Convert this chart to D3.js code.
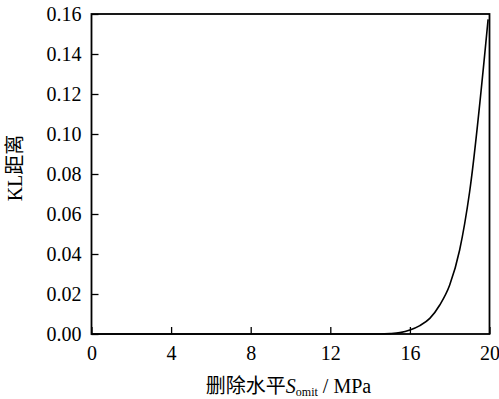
<!DOCTYPE html>
<html><head><meta charset="utf-8">
<script src="https://cdn.jsdelivr.net/npm/d3@7"></script>
<style>body{margin:0;background:#fff}svg{display:block}</style>
</head><body>
<svg id="c" width="499" height="399"></svg>
<script>
const sOmit = [0, 2, 4, 6, 8, 10, 12, 14, 14.5, 15, 15.5, 16, 16.5, 17, 17.5, 18, 18.5, 19, 19.93];
const klDist = [0, 0, 0, 0, 0, 0, 0, 0, 0, 0.0002, 0.0007, 0.002, 0.0042, 0.0078, 0.0145, 0.0245, 0.042, 0.071, 0.1573];
const xTicks = [0, 4, 8, 12, 16, 20];
const yTicks = [0, 0.02, 0.04, 0.06, 0.08, 0.10, 0.12, 0.14, 0.16];

const svg = d3.select("#c");
const L = 91.5, R = 489.5, T = 14, B = 334;
const x = d3.scaleLinear().domain([0, 20]).range([L, R]);
const y = d3.scaleLinear().domain([0, 0.16]).range([B, T]);
const font = "Liberation Serif, Times New Roman, Noto Sans CJK SC, serif";

const xa = svg.append("g").attr("transform", `translate(0,${B})`)
  .call(d3.axisBottom(x).tickValues(xTicks).tickSizeInner(-7).tickSizeOuter(0).tickPadding(12).tickFormat(d3.format("d")));
const ya = svg.append("g").attr("transform", `translate(${L},0)`)
  .call(d3.axisLeft(y).tickValues(yTicks).tickSizeInner(-7).tickSizeOuter(0).tickPadding(10).tickFormat(d3.format(".2f")));
[xa, ya].forEach(a => {
  a.attr("font-family", font).attr("font-size", 20);
  a.select(".domain").remove();
  a.selectAll(".tick line").attr("stroke", "#000").attr("stroke-width", 1.3);
  a.selectAll(".tick text").attr("fill", "#000").attr("font-family", font).attr("font-size", 20);
});

svg.append("rect").attr("x", L).attr("y", T).attr("width", R - L).attr("height", B - T)
  .attr("fill", "none").attr("stroke", "#000").attr("stroke-width", 1.8);

const line = d3.line().x((d, i) => x(sOmit[i])).y(d => y(d)).curve(d3.curveMonotoneX);
svg.append("path").datum(klDist).attr("d", line).attr("fill", "none")
  .attr("stroke", "#000").attr("stroke-width", 1.6);

const xl = svg.append("text").attr("x", (L + R) / 2 - 2).attr("y", 393).attr("text-anchor", "middle")
  .attr("font-family", font).attr("font-size", 20).attr("fill", "#000");
xl.append("tspan").text("删除水平");
xl.append("tspan").attr("font-style", "italic").text("S");
xl.append("tspan").attr("font-size", 12).attr("dy", 3).text("omit");
xl.append("tspan").attr("dy", -3).text(" / MPa");

svg.append("text").attr("transform", "translate(22,168) rotate(-90)").attr("text-anchor", "middle")
  .attr("font-family", font).attr("font-size", 20).attr("fill", "#000").text("KL距离");
</script>
</body></html>
